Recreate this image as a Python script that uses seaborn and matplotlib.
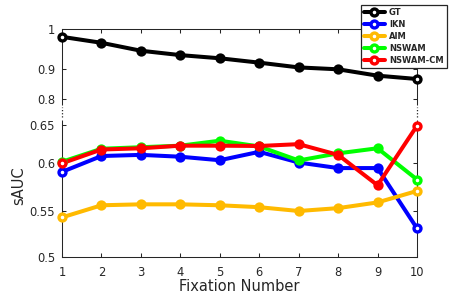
import numpy as np
import pandas as pd
import matplotlib
matplotlib.use("Agg")
import matplotlib.pyplot as plt
from matplotlib.lines import Line2D
import seaborn as sns

# ---------------- data ----------------
fixation = [1, 2, 3, 4, 5, 6, 7, 8, 9, 10]
gt = [0.981, 0.966, 0.946, 0.935, 0.927, 0.916, 0.904, 0.899, 0.878, 0.867]
ikn = [0.591, 0.6095, 0.611, 0.6086, 0.604, 0.615, 0.601, 0.595, 0.595, 0.531]
aim = [0.543, 0.556, 0.557, 0.557, 0.556, 0.554, 0.550, 0.553, 0.559, 0.571]
nswam = [0.602, 0.619, 0.621, 0.623, 0.6295, 0.622, 0.6037, 0.613, 0.6196, 0.583]
nswam_cm = [0.600, 0.618, 0.6196, 0.623, 0.623, 0.6226, 0.625, 0.611, 0.577, 0.649]
series_names = ["GT", "IKN", "AIM", "NSWAM", "NSWAM-CM"]
series_values = [gt, ikn, aim, nswam, nswam_cm]
colors = ["#000000", "#0000FF", "#FFBA00", "#00FF00", "#FF0000"]
ytick_values = [0.5, 0.55, 0.6, 0.65, 0.8, 0.9, 1.0]
ytick_labels = ["0.5", "0.55", "0.6", "0.65", "0.8", "0.9", "1"]
xtick_labels = [str(v) for v in fixation]

# broken-axis scale: screen height (px above the axis bottom) of each y tick
ytick_screen = [0.0, 45.7, 93.4, 131.7, 157.4, 187.7, 227.4]


def forward(v):
    v = np.asarray(v, dtype=float)
    out = np.interp(v, ytick_values, ytick_screen)
    out = np.where(v < ytick_values[0], (v - ytick_values[0]) * 914.0, out)
    out = np.where(v > ytick_values[-1], ytick_screen[-1] + (v - ytick_values[-1]) * 397.0, out)
    return out


def inverse(t):
    t = np.asarray(t, dtype=float)
    out = np.interp(t, ytick_screen, ytick_values)
    out = np.where(t < ytick_screen[0], ytick_values[0] + (t - ytick_screen[0]) / 914.0, out)
    out = np.where(t > ytick_screen[-1], ytick_values[-1] + (t - ytick_screen[-1]) / 397.0, out)
    return out


df = pd.DataFrame({
    "Fixation Number": fixation * len(series_names),
    "sAUC": [v for s in series_values for v in s],
    "Method": [n for n in series_names for _ in fixation],
})

sns.set_theme(style="ticks")
plt.rcParams["font.family"] = ["DejaVu Sans"]

fig = plt.figure(figsize=(4.57, 2.96), dpi=100)
ax = fig.add_axes([62 / 457, 1 - 256.7 / 296, 355 / 457, 227.4 / 296])

lw = 2.9
ms = 5.0
mew = 2.4
for name, col in zip(series_names, colors):
    sub = df[df["Method"] == name]
    sns.lineplot(data=sub, x="Fixation Number", y="sAUC", color=col, lw=lw,
                 marker="o", markersize=ms, markeredgewidth=mew, markeredgecolor=col,
                 markerfacecolor=col, markevery=list(range(1, len(fixation) - 1)),
                 estimator=None, errorbar=None, legend=False, ax=ax, clip_on=False)
    ends = sub.iloc[[0, -1]]
    ax.plot(ends["Fixation Number"], ends["sAUC"], linestyle="none", marker="o",
            markersize=ms, markeredgewidth=mew, markeredgecolor=col,
            markerfacecolor="white", clip_on=False, zorder=3)

ax.set_yscale("function", functions=(forward, inverse))
ax.set_ylim(0.5, 1.0)
ax.set_xlim(1, 10)
ax.set_yticks(ytick_values)
ax.set_yticklabels(ytick_labels)
ax.set_xticks(fixation)
ax.set_xticklabels(xtick_labels)
ax.minorticks_off()

tc = "#262626"
ax.tick_params(axis="both", direction="in", length=3, width=0.75, colors=tc,
               labelsize=8.3, top=True, right=True)
ax.tick_params(axis="x", pad=6.5)
ax.tick_params(axis="y", pad=5)
for sp in ax.spines.values():
    sp.set_visible(True)
    sp.set_color(tc)
    sp.set_linewidth(0.75)

ax.set_xlabel("Fixation Number", fontsize=10.5, color=tc)
ax.set_ylabel("sAUC", fontsize=10.5, color=tc)
ax.xaxis.set_label_coords(0.5, -0.098)
ax.yaxis.set_label_coords(-0.101, 0.311)

# break marks on left / right spines
for xa in (0, 1):
    ax.plot([xa, xa], [0.601, 0.667], transform=ax.transAxes, color="white",
            lw=2.5, clip_on=False, zorder=5, solid_capstyle="butt")
    ax.plot([xa, xa], [0.614, 0.66], transform=ax.transAxes, color=tc,
            lw=0.9, linestyle=(0, (1, 1.5)), clip_on=False, zorder=6)

handles = [Line2D([0], [0], color=c, lw=lw, marker="o", markersize=ms,
                  markeredgewidth=mew, markeredgecolor=c, markerfacecolor="white")
           for c in colors]
leg = ax.legend(handles, series_names, loc="upper right",
                bbox_to_anchor=(447 / 457, 1 - 5 / 296), bbox_transform=fig.transFigure,
                prop={"size": 6, "weight": "bold"}, frameon=True, fancybox=False,
                borderpad=0.4, labelspacing=0.35, handlelength=2.5, handletextpad=0.5,
                borderaxespad=0)
leg.get_frame().set_edgecolor(tc)
leg.get_frame().set_linewidth(0.9)
leg.get_frame().set_facecolor("white")
leg.get_frame().set_alpha(1)

fig.savefig("out.png", dpi=100)
